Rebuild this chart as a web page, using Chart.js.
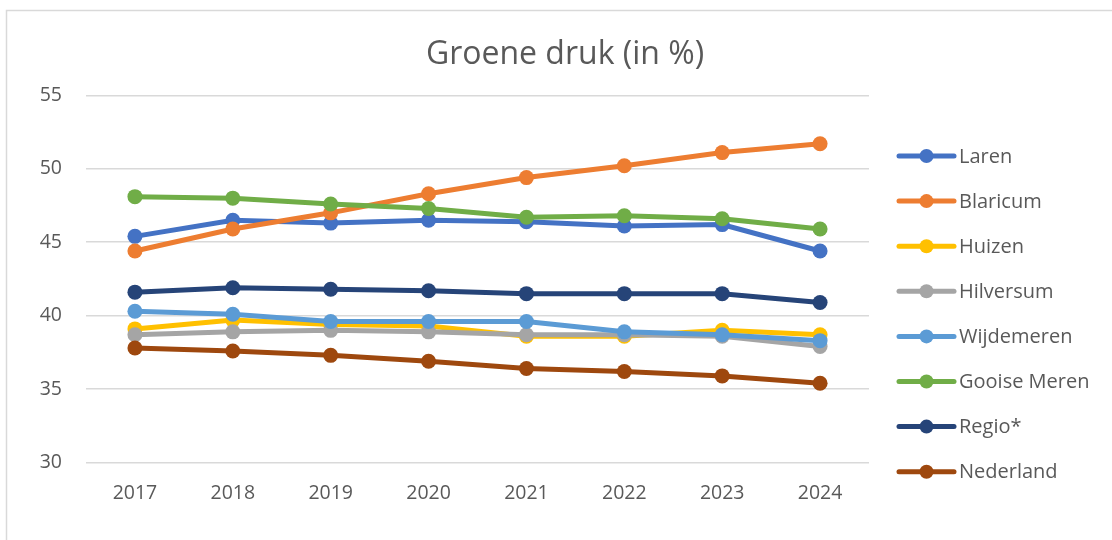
<!DOCTYPE html>
<html>
<head>
<meta charset="utf-8">
<script src="https://cdn.jsdelivr.net/npm/chart.js@4"></script>
<style>
  html, body { margin: 0; padding: 0; background: #fff; }
  #wrap { width: 1112px; height: 540px; position: relative; }
</style>
</head>
<body>
<div id="wrap"><canvas id="c" width="1112" height="540"></canvas></div>
<script>
const chartTitle = 'Groene druk (in %)';
const years = ['2017', '2018', '2019', '2020', '2021', '2022', '2023', '2024'];
const seriesNames = ['Laren', 'Blaricum', 'Huizen', 'Hilversum', 'Wijdemeren', 'Gooise Meren', 'Regio*', 'Nederland'];
const laren       = [45.4, 46.5, 46.3, 46.5, 46.4, 46.1, 46.2, 44.4];
const blaricum    = [44.4, 45.9, 47.0, 48.3, 49.4, 50.2, 51.1, 51.7];
const huizen      = [39.1, 39.7, 39.4, 39.3, 38.6, 38.6, 39.0, 38.7];
const hilversum   = [38.7, 38.9, 39.0, 38.9, 38.7, 38.7, 38.6, 37.9];
const wijdemeren  = [40.3, 40.1, 39.6, 39.6, 39.6, 38.9, 38.7, 38.3];
const gooiseMeren = [48.1, 48.0, 47.6, 47.3, 46.7, 46.8, 46.6, 45.9];
const regio       = [41.6, 41.9, 41.8, 41.7, 41.5, 41.5, 41.5, 40.9];
const nederland   = [37.8, 37.6, 37.3, 36.9, 36.4, 36.2, 35.9, 35.4];
const yTicks = [30, 35, 40, 45, 50, 55];

const seriesValues = [laren, blaricum, huizen, hilversum, wijdemeren, gooiseMeren, regio, nederland];
const colors = ['#4472C4', '#ED7D31', '#FFC000', '#A5A5A5', '#5B9BD5', '#70AD47', '#264478', '#9E480E'];
const FONT = '"Open Sans", "DejaVu Sans", sans-serif';
const TEXT = '#595959';

const datasets = seriesNames.map((name, i) => ({
  label: name,
  data: seriesValues[i],
  borderColor: colors[i],
  backgroundColor: colors[i],
  borderWidth: 5,
  pointRadius: 7.5,
  pointHoverRadius: 7.5,
  pointBorderWidth: 0,
  pointBackgroundColor: colors[i],
  tension: 0,
  order: seriesNames.length - i
}));

const framePlugin = {
  id: 'frame',
  beforeDraw(chart) {
    const ctx = chart.ctx;
    ctx.save();
    ctx.fillStyle = '#ffffff';
    ctx.fillRect(0, 0, chart.width, chart.height);
    ctx.strokeStyle = '#d9d9d9';
    ctx.lineWidth = 1.5;
    ctx.strokeRect(6.5, 10.5, chart.width + 20, chart.height + 20);
    ctx.restore();
  },
  afterDraw(chart) {
    const ctx = chart.ctx;
    ctx.save();
    ctx.fillStyle = TEXT;
    ctx.font = '32px ' + FONT;
    ctx.textAlign = 'center';
    ctx.textBaseline = 'middle';
    ctx.fillText(chartTitle, 565, 55);
    ctx.restore();
  }
};

const legendPlugin = {
  id: 'customLegend',
  afterDraw(chart) {
    const ctx = chart.ctx;
    ctx.save();
    const x0 = 899, x1 = 954, tx = 959;
    const yStart = 156, step = 45.1;
    chart.data.datasets.forEach((ds, i) => {
      const y = yStart + i * step;
      ctx.strokeStyle = ds.borderColor;
      ctx.lineWidth = 5;
      ctx.lineCap = 'round';
      ctx.beginPath();
      ctx.moveTo(x0, y);
      ctx.lineTo(x1, y);
      ctx.stroke();
      ctx.fillStyle = ds.borderColor;
      ctx.beginPath();
      ctx.arc((x0 + x1) / 2, y, 7, 0, Math.PI * 2);
      ctx.fill();
      ctx.fillStyle = TEXT;
      ctx.font = '20px ' + FONT;
      ctx.textAlign = 'left';
      ctx.textBaseline = 'middle';
      ctx.fillText(ds.label, tx, y + 1);
    });
    ctx.restore();
  }
};

new Chart(document.getElementById('c'), {
  type: 'line',
  data: { labels: years, datasets: datasets },
  options: {
    responsive: false,
    animation: false,
    devicePixelRatio: 1,
    layout: { padding: { left: 0, right: 243, top: 95.3, bottom: 16 } },
    plugins: {
      legend: { display: false },
      tooltip: { enabled: false },
      title: { display: false }
    },
    scales: {
      x: {
        offset: true,
        grid: { display: false, drawTicks: false },
        border: { display: false },
        ticks: { color: TEXT, font: { family: FONT, size: 19.5 }, padding: 19, maxRotation: 0 }
      },
      y: {
        min: 30,
        max: 55,
        afterFit(scale) { scale.width = 86; },
        afterBuildTicks(scale) { scale.ticks = yTicks.map(v => ({ value: v })); },
        grid: { color: '#d9d9d9', lineWidth: 1.5, drawTicks: false },
        border: { display: false },
        ticks: { color: TEXT, font: { family: FONT, size: 19.5 }, padding: 24, stepSize: 5 }
      }
    }
  },
  plugins: [framePlugin, legendPlugin]
});
</script>
</body>
</html>
